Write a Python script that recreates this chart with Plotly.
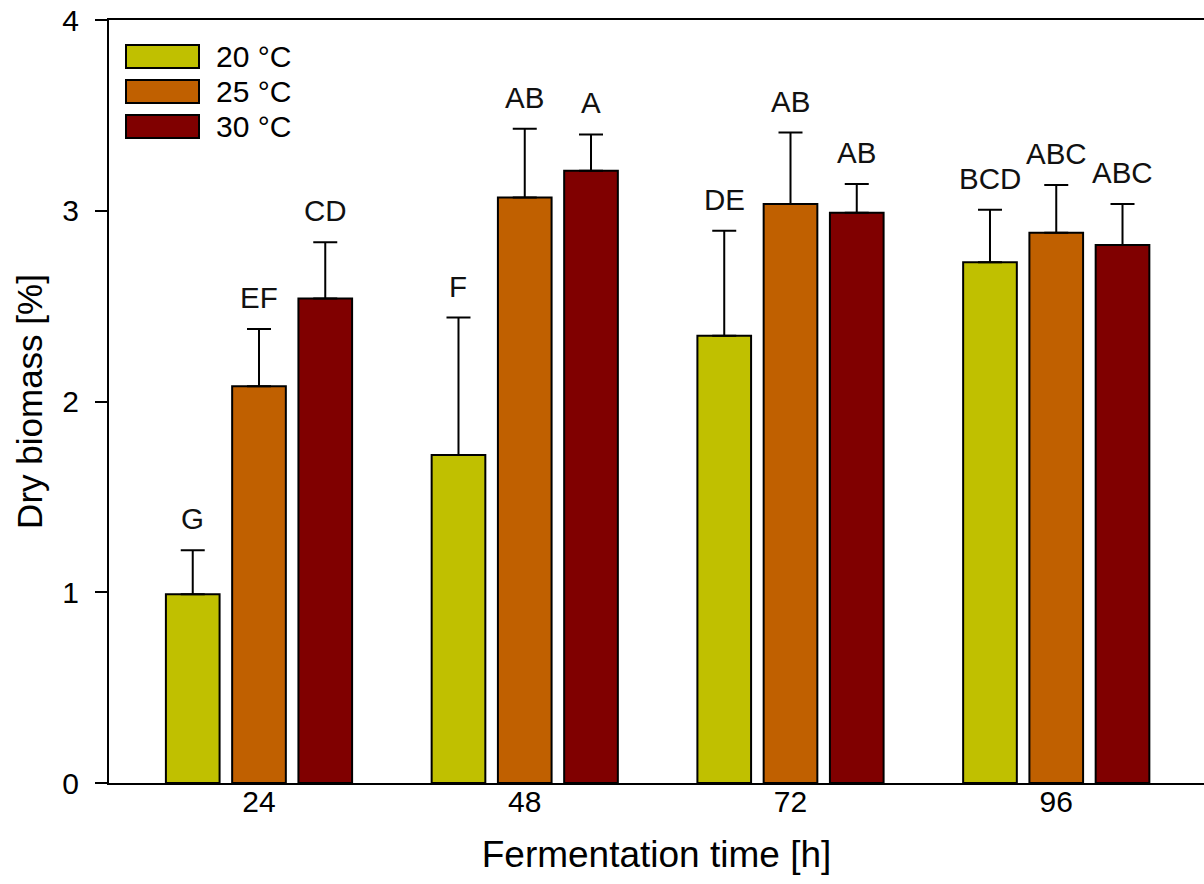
import plotly.graph_objects as go

# Fermentation time groups and temperature series
times = ["24", "48", "72", "96"]
temps = ["20 °C", "25 °C", "30 °C"]
colors = ["#C0C000", "#C06000", "#800000"]

mean_20 = [0.99, 1.72, 2.345, 2.73]
mean_25 = [2.08, 3.07, 3.035, 2.885]
mean_30 = [2.54, 3.21, 2.99, 2.82]

sd_20 = [0.23, 0.72, 0.55, 0.275]
sd_25 = [0.30, 0.36, 0.375, 0.25]
sd_30 = [0.295, 0.19, 0.15, 0.215]

letters_20 = ["G", "F", "DE", "BCD"]
letters_25 = ["EF", "AB", "AB", "ABC"]
letters_30 = ["CD", "A", "AB", "ABC"]

means = [mean_20, mean_25, mean_30]
sds = [sd_20, sd_25, sd_30]
letters = [letters_20, letters_25, letters_30]

FONT = "Liberation Sans, Arial, sans-serif"
W, H = 1204, 884
L, R, T, B = 109, 0, 20, 101
BARGAP = 0.252
BARGROUPGAP = 0.19

xpos = list(range(len(times)))

fig = go.Figure()
for name, col, m, s in zip(temps, colors, means, sds):
    fig.add_trace(go.Bar(
        x=xpos, y=m, name=name,
        marker=dict(color=col, line=dict(color="black", width=2)),
        error_y=dict(type="data", array=s, arrayminus=[0] * len(s),
                     symmetric=False, color="black", thickness=2, width=12),
        showlegend=False,
    ))

# significance letters above each error bar
slot = (1 - BARGAP) / len(temps)
annotations = []
for j, (m, s, lab) in enumerate(zip(means, sds, letters)):
    off = (j - (len(temps) - 1) / 2) * slot
    for i in xpos:
        annotations.append(dict(
            x=i + off, y=m[i] + s[i], xref="x", yref="y",
            text=lab[i], showarrow=False, yanchor="bottom", yshift=13,
            font=dict(family=FONT, size=29.5, color="#111111"),
        ))

# legend drawn as boxes + labels in the upper-left corner
pw, ph = W - L - R, H - T - B
def px_x(v):
    return (v - L) / pw
def px_y(v):
    return (H - B - v) / ph

shapes = []
for k, (name, col) in enumerate(zip(temps, colors)):
    y0, y1 = 45 + 35 * k, 68 + 35 * k
    shapes.append(dict(type="rect", xref="paper", yref="paper",
                       x0=px_x(126), x1=px_x(199), y0=px_y(y1), y1=px_y(y0),
                       fillcolor=col, line=dict(color="black", width=2)))
    annotations.append(dict(x=px_x(214), y=px_y((y0 + y1) / 2), xref="paper", yref="paper",
                            text=name, showarrow=False, xanchor="left", yanchor="middle",
                            font=dict(family=FONT, size=30, color="black")))

xmin = -150 / 265.75
xmax = xmin + pw / 265.75

fig.update_layout(
    width=W, height=H,
    margin=dict(l=L, r=R, t=T, b=B, autoexpand=False),
    paper_bgcolor="white", plot_bgcolor="white",
    barmode="group", bargap=BARGAP, bargroupgap=BARGROUPGAP,
    font=dict(family=FONT, color="black"),
    annotations=annotations, shapes=shapes,
    xaxis=dict(
        range=[xmin, xmax], tickmode="array", tickvals=xpos, ticktext=times,
        showline=True, linecolor="black", linewidth=2, mirror=True,
        ticks="", ticklen=0, showgrid=False, zeroline=False,
        ticklabelstandoff=-9,
        tickfont=dict(family=FONT, size=30, color="black"),
        title=dict(text="Fermentation time [h]", standoff=24,
                   font=dict(family=FONT, size=37, color="black")),
        automargin=False,
    ),
    yaxis=dict(
        range=[0, 4], tickmode="linear", tick0=0, dtick=1,
        showline=True, linecolor="black", linewidth=2, mirror=False,
        ticks="outside", ticklen=12, tickwidth=2, tickcolor="black",
        showgrid=False, zeroline=False, ticklabelstandoff=10,
        tickfont=dict(family=FONT, size=30, color="black"),
        title=dict(text="Dry biomass [%]", standoff=9,
                   font=dict(family=FONT, size=35, color="black")),
        automargin=False,
    ),
)

fig.write_html("out.html")
